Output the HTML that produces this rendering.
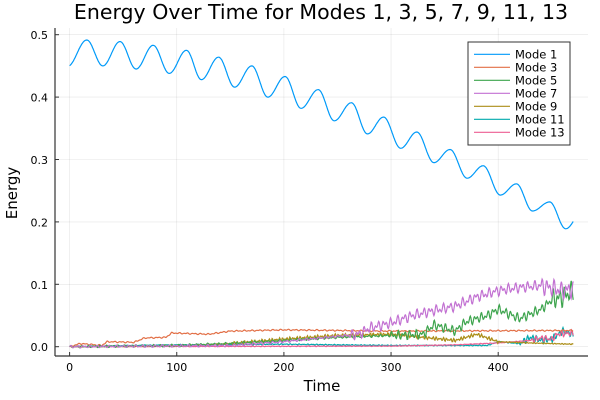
<!DOCTYPE html>
<html><head><style>
body{margin:0;background:#fff}
svg{display:block;font-family:"DejaVu Sans","Liberation Sans",sans-serif}
</style></head><body>
<svg id="s" width="600" height="400" viewBox="0 0 600 400">
<rect width="600" height="400" fill="#fff"/>
<g id="grid" stroke="#000" stroke-opacity="0.1" stroke-width="0.6"></g>
<g id="series" fill="none" stroke-width="1.2"></g>
<line x1="55" y1="356" x2="588" y2="356" stroke="#333" stroke-width="1.2"/>
<line x1="55" y1="356" x2="55" y2="28" stroke="#333" stroke-width="1.2"/>
<g id="ticks" stroke="#333" stroke-width="1"></g>
<g id="labels" font-size="11" fill="#000"></g>
<text x="321" y="19" font-size="20.5" text-anchor="middle">Energy Over Time for Modes 1, 3, 5, 7, 9, 11, 13</text>
<text x="322" y="391" font-size="15" text-anchor="middle">Time</text>
<text x="17" y="193" font-size="15" text-anchor="middle" transform="rotate(-90 17 193)">Energy</text>
<g id="legend"></g>
</svg>
<script>
const NS="http://www.w3.org/2000/svg";
function el(p,t,a,txt){const e=document.createElementNS(NS,t);for(const k in a)e.setAttribute(k,a[k]);if(txt!==undefined)e.textContent=txt;document.getElementById(p).appendChild(e);return e;}
const X=t=>69.6+t*1.0715, Y=v=>346.7-v*624;
for(const t of [0,100,200,300,400]){el('grid','line',{x1:X(t),x2:X(t),y1:28,y2:356});el('ticks','line',{x1:X(t),x2:X(t),y1:356,y2:352});el('labels','text',{x:X(t),y:371,'text-anchor':'middle'},String(t));}
for(const v of [0,0.1,0.2,0.3,0.4,0.5]){el('grid','line',{x1:55,x2:588,y1:Y(v),y2:Y(v)});el('ticks','line',{x1:55,x2:59,y1:Y(v),y2:Y(v)});el('labels','text',{x:48,y:Y(v)+4.5,'text-anchor':'end'},v.toFixed(1));}
function interp(pts,t){for(let i=1;i<pts.length;i++){if(t<=pts[i][0]){const a=pts[i-1],b=pts[i];return a[1]+(b[1]-a[1])*(t-a[0])/(b[0]-a[0]);}}return pts[pts.length-1][1];}
function path(fn,color){let d="";for(let t=0;t<=470;t+=0.5){d+=(t?"L":"M")+X(t).toFixed(1)+" "+Y(fn(t)).toFixed(1);}el('series','path',{d:d,stroke:color});}
function noisy(pts,amp,freq,ampFn){return t=>{let base=interp(pts,t);let a=ampFn?ampFn(t):amp;return base+a*Math.sin(t*freq)*Math.sin(t*0.37+1);};}
path(noisy([[0,0],[60,0.002],[100,0.003],[200,0.004],[300,0.002],[390,0.002],[400,0.008],[420,0.005],[430,0.015],[440,0.01],[450,0.012],[460,0.025],[470,0.02]],0.003,1.9,t=>t>420?0.006:0.0008),"#00a9ad");
path(noisy([[0,0],[300,0.001],[360,0.003],[400,0.006],[430,0.01],[440,0.014],[450,0.012],[455,0.02],[470,0.022]],0.002,1.7,t=>t>430?0.005:0.0006),"#ed5e93");
path(noisy([[0,0],[100,0.001],[150,0.005],[200,0.012],[250,0.018],[300,0.02],[330,0.015],[360,0.01],[380,0.02],[400,0.008],[430,0.006],[470,0.004]],0.003,2.3,t=>t>150&&t<400?0.003:0.0008),"#ac8e18");
path(noisy([[0,0],[10,0.005],[30,0.002],[35,0.008],[60,0.007],[70,0.014],[90,0.015],[95,0.022],[130,0.02],[150,0.025],[200,0.027],[300,0.025],[470,0.026]],0.0012,1.3),"#e26f46");
path(noisy([[0,0],[100,0.002],[150,0.005],[200,0.01],[250,0.015],[300,0.018],[330,0.02],[340,0.035],[360,0.025],[370,0.04],[390,0.05],[400,0.06],[420,0.045],[440,0.06],[450,0.075],[460,0.08],[470,0.09]],0.004,1.5,t=>t<300?0.002:(t>450?0.018:0.008)),"#3da44d");
path(noisy([[0,0],[150,0.002],[200,0.008],[240,0.015],[270,0.02],[280,0.03],[300,0.038],[320,0.05],[340,0.058],[360,0.065],[380,0.08],[400,0.09],[420,0.095],[440,0.098],[460,0.09],[470,0.092]],0.004,1.4,t=>t<260?0.002:(t>440?0.015:0.009)),"#c271d2");
const pk=[[16,0.4915],[47,0.489],[78,0.483],[109,0.475],[139,0.464],[170,0.450],[201,0.433],[232,0.412],[263,0.391],[293,0.368],[324,0.344],[355,0.316],[386,0.290],[417,0.261],[448,0.232]];
const tr=[[31,0.450],[62,0.445],[93,0.438],[123,0.428],[154,0.416],[185,0.400],[216,0.382],[247,0.362],[278,0.341],[309,0.318],[340,0.295],[371,0.270],[402,0.243],[432,0.2175],[463,0.189]];
const ex=[[-2,0.449]];for(let i=0;i<pk.length;i++){ex.push(pk[i]);ex.push(tr[i]);}ex.push([478,0.215]);
path(t=>{for(let i=1;i<ex.length;i++){if(t<=ex[i][0]){const a=ex[i-1],b=ex[i];const u=(t-a[0])/(b[0]-a[0]);const s=(1-Math.cos(Math.PI*u))/2;return a[1]+(b[1]-a[1])*s;}}return 0.2;},"#009af9");
el('legend','rect',{x:468,y:42,width:102,height:103,fill:"#fff",stroke:"#333","stroke-width":1});
const L=[["Mode 1","#009af9"],["Mode 3","#e26f46"],["Mode 5","#3da44d"],["Mode 7","#c271d2"],["Mode 9","#ac8e18"],["Mode 11","#00a9ad"],["Mode 13","#ed5e93"]];
L.forEach((l,i)=>{const y=54.3+i*13;el('legend','line',{x1:474,x2:510,y1:y,y2:y,stroke:l[1],"stroke-width":1.2});el('legend','text',{x:515,y:y+4,"font-size":11.5},l[0]);});
</script>
</body></html>
